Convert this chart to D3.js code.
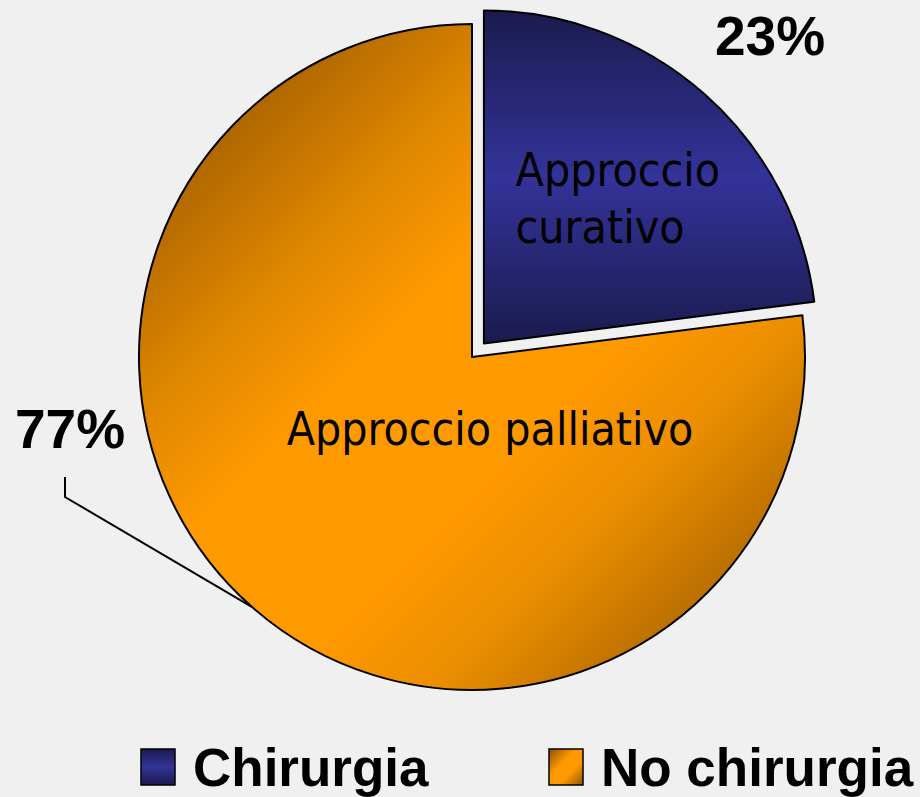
<!DOCTYPE html>
<html>
<head>
<meta charset="utf-8">
<script src="https://cdn.jsdelivr.net/npm/d3@7"></script>
<style>
  html, body { margin: 0; padding: 0; background: #f0f0f0; }
  svg { display: block; }
</style>
</head>
<body>
<script>
// ---- data ----
const categories = ["Chirurgia", "No chirurgia"];
const values = [23, 77];
const pctLabels = ["23%", "77%"];
const sliceLabels = [["Approccio", "curativo"], ["Approccio palliativo"]];
const colorsLight = ["#333399", "#ff9900"];
const colorsDark = ["#1b1b4e", "#8c5200"];

// ---- layout ----
const W = 920, H = 797;
const cx = 472, cy = 357, R = 333, explode = 18;

const svg = d3.select("body").append("svg").attr("width", W).attr("height", H);
svg.append("rect").attr("width", W).attr("height", H).attr("fill", "#f0f0f0");

const defs = svg.append("defs");
// blue: vertical gradient (dark - light - dark)
const g0 = defs.append("linearGradient").attr("id", "grad0")
  .attr("x1", 0).attr("y1", 0).attr("x2", 0).attr("y2", 1);
[["0%", colorsDark[0]], ["50%", colorsLight[0]], ["100%", colorsDark[0]]].forEach(s =>
  g0.append("stop").attr("offset", s[0]).attr("stop-color", s[1]));
// orange: diagonal gradient (dark - wide light band - dark), smooth
const g1 = defs.append("linearGradient").attr("id", "grad1")
  .attr("x1", 0).attr("y1", 0).attr("x2", 1).attr("y2", 1);
[["0%", colorsDark[1]], ["15%", "#b06800"], ["30%", "#e08800"], ["42%", colorsLight[1]],
 ["60%", colorsLight[1]], ["72%", "#eb8e00"], ["86%", "#b86e00"], ["100%", colorsDark[1]]].forEach(s =>
  g1.append("stop").attr("offset", s[0]).attr("stop-color", s[1]));
// legend orange square: diagonal gradient
const g2 = defs.append("linearGradient").attr("id", "grad2")
  .attr("x1", 0).attr("y1", 0).attr("x2", 1).attr("y2", 1);
[["0%", colorsDark[1]], ["40%", colorsLight[1]], ["65%", colorsLight[1]], ["100%", colorsDark[1]]].forEach(s =>
  g2.append("stop").attr("offset", s[0]).attr("stop-color", s[1]));

const pie = d3.pie().sort(null).value(d => d)(values);
const arc = d3.arc().innerRadius(0).outerRadius(R);

const offsetOf = (d, i) => {
  if (i !== 0) return [0, 0];
  const a = (d.startAngle + d.endAngle) / 2;
  return [Math.sin(a) * explode, -Math.cos(a) * explode];
};

const slices = svg.append("g").attr("transform", `translate(${cx},${cy})`);
slices.selectAll("path").data(pie).join("path")
  .attr("transform", (d, i) => { const o = offsetOf(d, i); return `translate(${o[0]},${o[1]})`; })
  .attr("d", arc)
  .attr("fill", (d, i) => `url(#grad${i})`)
  .attr("stroke", "#000")
  .attr("stroke-width", 2)
  .attr("stroke-linejoin", "round");

// ---- inner labels ----
const labelFont = "'DejaVu Sans Condensed', 'DejaVu Sans', sans-serif";
{
  const d = pie[0];
  const o = offsetOf(d, 0);
  const a = (d.startAngle + d.endAngle) / 2;
  const lr = 198;
  const px = cx + o[0] + Math.sin(a) * lr;
  const py = cy + o[1] - Math.cos(a) * lr;
  const t = svg.append("text").attr("font-family", labelFont).attr("font-size", 46)
    .attr("fill", "#000");
  sliceLabels[0].forEach((line, k) => {
    t.append("tspan").attr("x", 0).attr("y", py - 9 + k * 57).text(line);
  });
  const w = d3.max(t.selectAll("tspan").nodes(), n => n.getComputedTextLength());
  t.selectAll("tspan").attr("x", px - w / 2 + 3);
}
svg.append("text")
  .attr("x", cx + 18).attr("y", cy + 88)
  .attr("text-anchor", "middle")
  .attr("font-family", labelFont).attr("font-size", 46)
  .attr("fill", "#000")
  .text(sliceLabels[1][0]);

// ---- percentage labels ----
const pctFont = "'Liberation Sans', Arial, sans-serif";
svg.append("text")
  .attr("x", 715).attr("y", 55)
  .attr("font-family", pctFont).attr("font-weight", "bold").attr("font-size", 55)
  .attr("fill", "#000").text(pctLabels[0]);

svg.append("text")
  .attr("x", 15).attr("y", 448)
  .attr("font-family", pctFont).attr("font-weight", "bold").attr("font-size", 55)
  .attr("fill", "#000").text(pctLabels[1]);

// leader line for 77%
{
  const d = pie[1];
  const a = (d.startAngle + d.endAngle) / 2;
  const ex = cx + Math.sin(a) * R;
  const ey = cy - Math.cos(a) * R;
  svg.append("path")
    .attr("d", d3.line()([[65, 477], [65, 497], [ex, ey]]))
    .attr("fill", "none").attr("stroke", "#000").attr("stroke-width", 2);
}

// ---- legend ----
const legendX = [141, 549];
const legendFill = ["url(#grad0)", "url(#grad2)"];
const lg = svg.append("g");
categories.forEach((c, i) => {
  lg.append("rect")
    .attr("x", legendX[i]).attr("y", 749).attr("width", 34).attr("height", 36)
    .attr("fill", legendFill[i]).attr("stroke", "#000").attr("stroke-width", 1.5);
  lg.append("text")
    .attr("x", legendX[i] + 52).attr("y", 786)
    .attr("font-family", pctFont).attr("font-weight", "bold").attr("font-size", 53)
    .attr("fill", "#000").text(c);
});
</script>
</body>
</html>
